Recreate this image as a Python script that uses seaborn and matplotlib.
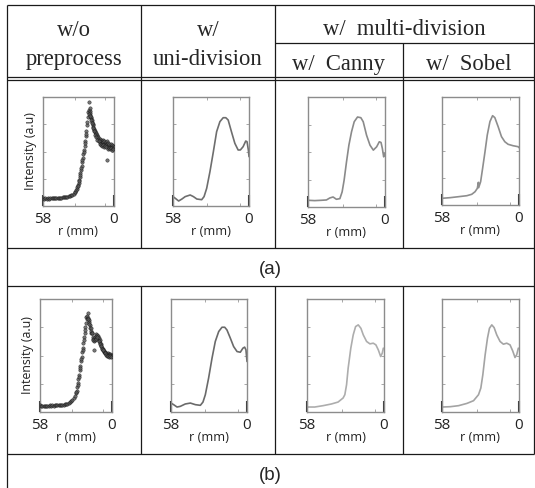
import matplotlib
matplotlib.use("Agg")
import matplotlib.pyplot as plt
import seaborn as sns

sns.set_theme(style="white")
plt.rcParams['font.family'] = ['DejaVu Sans']

# ---------------- data (r in mm, intensity in a.u.) ----------------
# (a) w/o preprocess : raw scatter
a_raw_r = [58, 57, 56, 55, 54, 53, 52, 51, 50, 49, 48, 47, 46, 45, 44, 43, 42, 41, 40, 39,
           38, 37, 36, 35, 34, 33, 32, 31.5, 31, 30.5, 30, 29.5, 29, 28.5, 28, 27.5, 27, 26.5,
           26, 25.5, 25, 24.5, 24, 23.5, 23, 22.5, 22, 21.7, 21.4, 21.0, 20.6, 20.3, 20.0, 19.7,
           19.5, 19.2, 18.9, 18.6, 18.2, 17.9, 17.5, 17.2, 16.8, 16.5, 16.1, 15.8, 15.4, 15.0,
           14.6, 14.1, 13.7, 13.3, 12.7, 12.3, 11.8, 11.4, 11.0, 10.5, 10.0, 9.6, 9.1, 8.7, 8.2,
           7.8, 7.3, 6.9, 6.4, 6.0, 6.0, 5.5, 5.0, 4.6, 4.1, 3.7, 3.3, 2.8, 2.4, 1.9, 1.5, 1.0,
           0.5, 0.2,
           20.8, 19.9, 19.0, 18.0, 17.0, 16.0, 15.2, 14.4, 13.5, 12.5, 11.6, 10.8, 9.9, 9.0, 8.0,
           7.1, 6.2, 5.3, 4.4, 3.5, 2.6, 1.7, 0.8,
           29.8, 28.8, 27.8, 26.8, 25.8, 24.8, 23.8, 22.8]
a_raw_i = [0.072, 0.068, 0.070, 0.066, 0.070, 0.068, 0.071, 0.069, 0.072, 0.070, 0.073, 0.071,
           0.074, 0.073, 0.076, 0.075, 0.078, 0.080, 0.082, 0.084, 0.087, 0.090, 0.094, 0.099,
           0.104, 0.112, 0.125, 0.133, 0.143, 0.155, 0.172, 0.192, 0.215, 0.240, 0.268, 0.300,
           0.330, 0.370, 0.405, 0.440, 0.480, 0.515, 0.555, 0.600, 0.640, 0.690, 0.740, 0.775,
           0.820, 0.860, 0.880, 0.950, 0.870, 0.895, 0.850, 0.835, 0.810, 0.815, 0.785, 0.770,
           0.755, 0.740, 0.728, 0.700, 0.705, 0.680, 0.690, 0.660, 0.670, 0.640, 0.655, 0.625,
           0.630, 0.600, 0.615, 0.590, 0.610, 0.580, 0.600, 0.575, 0.605, 0.585, 0.570, 0.600,
           0.565, 0.590, 0.560, 0.595, 0.420, 0.570, 0.550, 0.575, 0.545, 0.565, 0.540, 0.570,
           0.545, 0.560, 0.535, 0.555, 0.530, 0.545,
           0.840, 0.830, 0.790, 0.760, 0.720, 0.690, 0.650, 0.635, 0.610, 0.595, 0.570, 0.560,
           0.555, 0.560, 0.545, 0.550, 0.540, 0.525, 0.535, 0.520, 0.530, 0.515, 0.520,
           0.180, 0.228, 0.285, 0.350, 0.422, 0.498, 0.578, 0.665]

# (a) w/ uni-division
a_uni_r = [58, 56.2, 53.7, 51.2, 48.7, 44.9, 42.4, 39.8, 36.1, 34.3, 32.3, 29.8, 27.2, 24.7,
           22.2, 19.7, 17.7, 15.9, 13.4, 10.8, 8.3, 6.6, 4.5, 2.5, 1.5, 0.5, 0]
a_uni_i = [0.086, 0.070, 0.046, 0.064, 0.086, 0.101, 0.086, 0.064, 0.058, 0.086, 0.162, 0.315,
           0.498, 0.682, 0.774, 0.810, 0.810, 0.789, 0.682, 0.575, 0.514, 0.514, 0.544, 0.596,
           0.590, 0.514, 0.453]

# (a) w/ multi-division, Canny
a_can_r = [58, 53.0, 47.9, 44.1, 41.6, 39.1, 36.6, 34.0, 32.3, 30.8, 29.0, 27.2, 25.2, 23.2,
           20.7, 18.2, 16.4, 13.9, 11.3, 8.8, 6.3, 4.3, 3.0, 2.0, 1.0, 0.25]
a_can_i = [0.061, 0.058, 0.061, 0.064, 0.082, 0.091, 0.070, 0.076, 0.137, 0.243, 0.410, 0.562,
           0.684, 0.775, 0.818, 0.812, 0.775, 0.653, 0.562, 0.517, 0.547, 0.593, 0.587, 0.532,
           0.456, 0.486]

# (a) w/ multi-division, Sobel
a_sob_r = [58, 51.8, 45.5, 39.3, 35.6, 33.1, 31.4, 30.6, 30.4, 28.9, 27.4, 25.6, 23.9, 21.9,
           19.9, 18.2, 15.7, 13.2, 10.7, 8.2, 4.5, 0.7, 0]
a_sob_i = [0.062, 0.068, 0.077, 0.086, 0.099, 0.123, 0.154, 0.210, 0.160, 0.216, 0.340, 0.494,
           0.648, 0.772, 0.827, 0.809, 0.725, 0.633, 0.586, 0.562, 0.549, 0.540, 0.531]

# (b) w/o preprocess : raw scatter
b_raw_r = [58, 57, 56, 55, 54, 53, 52, 51, 50, 49, 48, 47, 46, 45, 44, 43, 42, 41, 40, 39,
           38, 37, 36, 35, 34, 33, 32, 31, 30, 29, 28.5, 28, 27.5, 27, 26.5, 26, 25.5, 25, 24.5,
           24, 23.5, 23, 22.5, 22, 21.5, 21, 20.8, 20.4, 20.0, 19.7, 19.3, 18.9, 18.5, 18.1,
           17.5, 17.0, 16.6, 16.2, 15.7, 15.3, 14.8, 14.3, 14.0, 13.5, 13.0, 12.6, 12.1, 11.6,
           11.2, 10.8, 10.3, 9.8, 9.4, 8.9, 8.5, 8.1, 7.6, 7.1, 6.7, 6.2, 5.8, 5.4, 4.9, 4.5,
           4.0, 3.5, 3.0, 2.6, 2.1, 1.7, 1.3, 0.8, 0.4, 0.1,
           19.2, 18.2, 17.2, 16.0, 15.0, 13.8, 12.8, 11.9, 10.5, 9.6, 8.7, 7.8, 6.9, 5.9, 5.0,
           4.1, 3.2, 2.3, 1.4, 0.5,
           28.7, 27.7, 26.7, 25.7, 24.7, 23.7, 22.7, 21.7]
b_raw_i = [0.058, 0.055, 0.057, 0.054, 0.056, 0.055, 0.057, 0.056, 0.058, 0.056, 0.058, 0.057,
           0.059, 0.058, 0.060, 0.060, 0.062, 0.063, 0.064, 0.066, 0.068, 0.071, 0.075, 0.080,
           0.090, 0.098, 0.110, 0.125, 0.145, 0.170, 0.190, 0.220, 0.255, 0.290, 0.330, 0.370,
           0.410, 0.450, 0.490, 0.530, 0.570, 0.610, 0.660, 0.700, 0.750, 0.790, 0.844, 0.820,
           0.850, 0.874, 0.830, 0.800, 0.810, 0.770, 0.741, 0.720, 0.700, 0.697, 0.665, 0.650,
           0.624, 0.550, 0.645, 0.668, 0.690, 0.675, 0.682, 0.670, 0.655, 0.653, 0.630, 0.640,
           0.609, 0.600, 0.585, 0.565, 0.560, 0.548, 0.535, 0.540, 0.520, 0.530, 0.515, 0.525,
           0.512, 0.520, 0.505, 0.515, 0.506, 0.512, 0.506, 0.500, 0.505, 0.500,
           0.820, 0.780, 0.740, 0.700, 0.640, 0.640, 0.650, 0.660, 0.625, 0.600, 0.580, 0.555,
           0.545, 0.525, 0.505, 0.500, 0.495, 0.490, 0.495, 0.488,
           0.180, 0.238, 0.310, 0.390, 0.470, 0.550, 0.635, 0.725]

# (b) w/ uni-division
b_uni_r = [58, 56.0, 53.4, 50.9, 47.1, 43.2, 39.4, 35.6, 33.6, 31.8, 29.3, 26.7, 24.2, 21.6,
           19.1, 17.0, 15.3, 12.7, 10.2, 7.6, 5.1, 3.1, 1.8, 0.8, 0]
b_uni_i = [0.079, 0.065, 0.044, 0.050, 0.071, 0.079, 0.065, 0.059, 0.088, 0.153, 0.300, 0.476,
           0.624, 0.712, 0.750, 0.750, 0.726, 0.653, 0.579, 0.535, 0.529, 0.565, 0.574, 0.550,
           0.447]

# (b) w/ multi-division, Canny
b_can_r = [58, 52.2, 45.9, 39.6, 34.6, 30.8, 29.5, 28.2, 27.0, 25.0, 23.2, 21.4, 19.4, 17.4,
           15.6, 13.1, 10.6, 8.1, 6.1, 4.3, 2.5, 1.3, 0.5]
b_can_i = [0.044, 0.044, 0.056, 0.071, 0.088, 0.124, 0.153, 0.241, 0.388, 0.565, 0.682, 0.756,
           0.771, 0.741, 0.682, 0.624, 0.603, 0.609, 0.594, 0.550, 0.491, 0.521, 0.565]

# (b) w/ multi-division, Sobel
b_sob_r = [58, 51.75, 45.5, 39.25, 34.25, 30.5, 28.75, 27.25, 25.5, 23.75, 22.25, 20.5, 18.75,
           16.75, 14.25, 11.75, 9.25, 6.75, 4.75, 3.0, 1.75, 0.5]
b_sob_i = [0.044, 0.047, 0.056, 0.076, 0.100, 0.153, 0.212, 0.329, 0.506, 0.653, 0.741, 0.771,
           0.747, 0.682, 0.624, 0.600, 0.609, 0.594, 0.541, 0.482, 0.506, 0.565]

header_top = ["w/o", "w/", "w/  multi-division"]
header_bottom = ["preprocess", "uni-division", "w/  Canny", "w/  Sobel"]
row_labels = ["(a)", "(b)"]
x_tick_labels = ["58", "0"]
x_label = "r (mm)"
y_label = "Intensity (a.u)"

# ---------------- figure ----------------
W, H = 535, 488
fig = plt.figure(figsize=(W / 100, H / 100), dpi=100)
fig.patch.set_facecolor("white")

bg = fig.add_axes([0, 0, 1, 1])
bg.set_xlim(0, W)
bg.set_ylim(H, 0)
bg.axis("off")

LC = "#1a1a1a"
LW = 0.9


def hline(y, x0, x1):
    bg.plot([x0, x1], [y, y], color=LC, lw=LW, solid_capstyle="butt")


def vline(x, y0, y1):
    bg.plot([x, x], [y0, y1], color=LC, lw=LW, solid_capstyle="butt")


XL, XR = 7, 534
C1, C2, C3 = 141, 275, 403
hline(5, XL, XR)
hline(43, C2, XR)
hline(77, XL, XR)
hline(80, XL, XR)
hline(248, XL, XR)
hline(286, XL, XR)
hline(454, XL, XR)
vline(XL, 5, H)
vline(XR, 5, 454)
for x in (C1, C2):
    vline(x, 5, 248)
    vline(x, 286, 454)
vline(C3, 43, 248)
vline(C3, 286, 454)

serif = ["Liberation Serif", "DejaVu Serif"]
hfs = 16.3
bg.text((XL + C1) / 2, 36, header_top[0], family=serif, fontsize=hfs, ha="center", va="baseline")
bg.text((C1 + C2) / 2, 36, header_top[1], family=serif, fontsize=hfs, ha="center", va="baseline")
bg.text((C2 + XR) / 2, 35, header_top[2], family=serif, fontsize=hfs, ha="center", va="baseline")
bg.text((XL + C1) / 2, 65, header_bottom[0], family=serif, fontsize=hfs, ha="center", va="baseline")
bg.text((C1 + C2) / 2, 65, header_bottom[1], family=serif, fontsize=hfs, ha="center", va="baseline")
bg.text((C2 + C3) / 2, 70, header_bottom[2], family=serif, fontsize=hfs, ha="center", va="baseline")
bg.text((C3 + XR) / 2, 70, header_bottom[3], family=serif, fontsize=hfs, ha="center", va="baseline")

sans = ["Liberation Sans", "DejaVu Sans"]
bg.text((XL + XR) / 2, 269, row_labels[0], family=sans, fontsize=13.5, ha="center", va="center")
bg.text((XL + XR) / 2, 476, row_labels[1], family=sans, fontsize=13.5, ha="center", va="center")

lab_font = ["Open Sans", "DejaVu Sans"]


def make_ax(l, r, t, b, ylabel=False):
    ax = fig.add_axes([l / W, 1 - b / H, (r - l) / W, (b - t) / H])
    ax.set_facecolor("white")
    ax.set_xlim(58, 0)
    ax.set_ylim(0, 1)
    for s in ax.spines.values():
        s.set_color("#8c8c8c")
        s.set_linewidth(1.0)
        s.set_visible(True)
    ax.set_xticks([58, 0])
    ax.set_xticklabels(x_tick_labels, family=lab_font, fontsize=11, color="#222")
    ax.set_xticks([32, 7], minor=True)
    ax.tick_params(axis="x", which="major", direction="in", length=8, width=1.5,
                   color="#333", pad=4, bottom=True, top=False)
    ax.tick_params(axis="x", which="minor", direction="in", length=2, width=0.6,
                   color="#999", bottom=True, top=True)
    ax.set_yticks([])
    ax.set_yticks([0.25, 0.5, 0.75], minor=True)
    ax.tick_params(axis="y", which="minor", direction="in", length=2, width=0.6,
                   color="#999", left=True, right=True)
    ax.grid(False)
    ax.set_xlabel(x_label, family=lab_font, fontsize=9.2, color="#222", labelpad=-1)
    if ylabel:
        ax.set_ylabel(y_label, family=lab_font, fontsize=8.9, color="#222", labelpad=1)
    else:
        ax.set_ylabel("")
    return ax


def scatter(ax, r, i):
    sns.scatterplot(x=r, y=i, ax=ax, s=6, marker="o", color="#555",
                    edgecolor="#111", linewidth=0.35, alpha=0.8, legend=False, zorder=3)
    ax.set_xlim(58, 0)
    ax.set_ylim(0, 1)


def curve(ax, r, i, color):
    sns.lineplot(x=r, y=i, ax=ax, sort=False, estimator=None, color=color, lw=1.2,
                 legend=False)
    ax.set_xlim(58, 0)
    ax.set_ylim(0, 1)


# row (a)
ax = make_ax(43, 114, 97, 206, ylabel=True)
scatter(ax, a_raw_r, a_raw_i)
ax = make_ax(173, 249, 97, 206)
curve(ax, a_uni_r, a_uni_i, "#6e6e6e")
ax = make_ax(308, 385, 97, 207)
curve(ax, a_can_r, a_can_i, "#8a8a8a")
ax = make_ax(442, 519, 97, 205)
curve(ax, a_sob_r, a_sob_i, "#8e8e8e")

# row (b)
ax = make_ax(40, 112, 299, 412, ylabel=True)
scatter(ax, b_raw_r, b_raw_i)
ax = make_ax(171, 247, 299, 412)
curve(ax, b_uni_r, b_uni_i, "#6a6a6a")
ax = make_ax(307, 384, 299, 412)
curve(ax, b_can_r, b_can_i, "#adadad")
ax = make_ax(442, 519, 299, 412)
curve(ax, b_sob_r, b_sob_i, "#a4a4a4")

fig.savefig("out.png", dpi=100, facecolor="white")
